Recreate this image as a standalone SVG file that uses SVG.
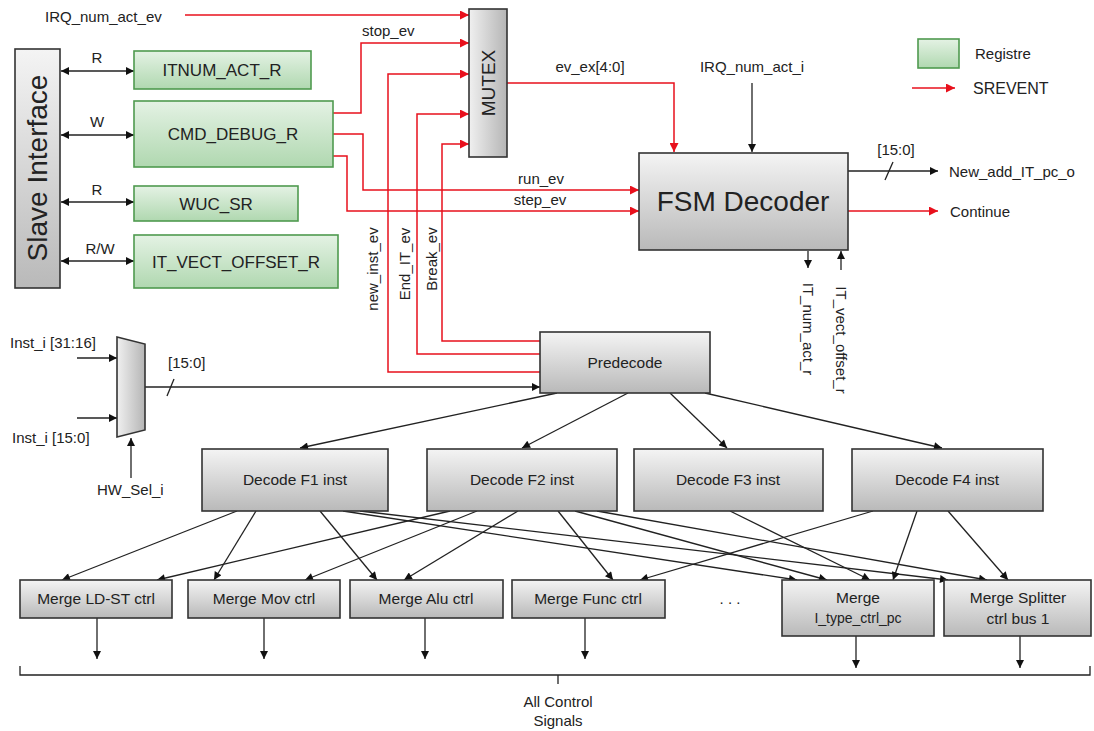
<svg xmlns="http://www.w3.org/2000/svg" width="1094" height="731" viewBox="0 0 1094 731">
<defs>
<linearGradient id="gGray" x1="0" y1="0" x2="0" y2="1"><stop offset="0" stop-color="#f4f4f4"/><stop offset="1" stop-color="#b9b9b9"/></linearGradient>
<linearGradient id="gGrayH" x1="0" y1="0" x2="1" y2="0"><stop offset="0" stop-color="#f0f0f0"/><stop offset="1" stop-color="#b5b5b5"/></linearGradient>
<linearGradient id="gGreen" x1="0" y1="0" x2="0" y2="1"><stop offset="0" stop-color="#e4f2e4"/><stop offset="1" stop-color="#b0d8b0"/></linearGradient>
<marker id="aB" viewBox="0 0 10 10" refX="10" refY="5" markerWidth="9" markerHeight="8" markerUnits="userSpaceOnUse" orient="auto-start-reverse"><path d="M0,0 L10,5 L0,10 Z" fill="#111"/></marker>
<marker id="aR" viewBox="0 0 10 10" refX="10" refY="5" markerWidth="10" markerHeight="9" markerUnits="userSpaceOnUse" orient="auto"><path d="M0,0 L10,5 L0,10 Z" fill="#e8101c"/></marker>
<style>
.box{fill:url(#gGray);stroke:#333;stroke-width:1.6}
.boxh{fill:url(#gGrayH);stroke:#333;stroke-width:1.6}
.reg{fill:url(#gGreen);stroke:#4f9a4f;stroke-width:1.6}
.t{font-family:"Liberation Sans",Arial,sans-serif;font-size:15px;fill:#222}
.c{text-anchor:middle}
.rt{font-size:17px}
.bt{font-size:15.5px}
.red{fill:none;stroke:#e8101c;stroke-width:1.5;marker-end:url(#aR)}
.blk{fill:none;stroke:#222;stroke-width:1.3;marker-end:url(#aB)}
.dbl{fill:none;stroke:#222;stroke-width:1.3;marker-end:url(#aB);marker-start:url(#aB)}
.ln{fill:none;stroke:#222;stroke-width:1.3}
</style>
</defs>
<rect width="1094" height="731" fill="#fff"/>

<g id="connectors">
<path class="red" d="M185,15 H469"/>
<path class="red" d="M333,113 H361 V43 H469"/>
<path class="red" d="M540,372 H388 V74 H469"/>
<path class="red" d="M540,354 H417 V114 H469"/>
<path class="red" d="M540,341 H442 V144 H469"/>
<path class="red" d="M333,134 H363 V190 H639"/>
<path class="red" d="M333,156 H347 V211 H639"/>
<path class="red" d="M507,83 H674 V152"/>
<path class="red" d="M848,211 H938"/>
<path class="blk" d="M752,83 V152"/>
<path class="blk" d="M848,171 H938"/>
<path class="ln" d="M885,180 L893,162"/>
<path class="blk" d="M808,251 V268"/>
<path class="blk" d="M841,270 V251"/>
<path class="dbl" d="M61,71 H134"/>
<path class="dbl" d="M61,135 H134"/>
<path class="dbl" d="M61,202 H134"/>
<path class="dbl" d="M61,261 H134"/>
<path class="blk" d="M77,358 H117"/>
<path class="blk" d="M77,418 H117"/>
<path class="blk" d="M131,478 V438"/>
<path class="blk" d="M145,387 H540"/>
<path class="ln" d="M167,396 L174,379"/>
<path class="blk" d="M557,393 L300,448"/>
<path class="blk" d="M628,393 L522,448"/>
<path class="blk" d="M670,393 L727,448"/>
<path class="blk" d="M705,393 L942,448"/>
<path class="blk" d="M237,511 L62,580"/>
<path class="blk" d="M256,511 L214,580"/>
<path class="blk" d="M320,511 L377,580"/>
<path class="blk" d="M343,511 L797,580"/>
<path class="blk" d="M360,511 L948,580"/>
<path class="blk" d="M450,511 L157,580"/>
<path class="blk" d="M477,511 L305,580"/>
<path class="blk" d="M518,511 L404,580"/>
<path class="blk" d="M558,511 L613,580"/>
<path class="blk" d="M575,511 L827,580"/>
<path class="blk" d="M597,511 L987,580"/>
<path class="blk" d="M730,511 L870,580"/>
<path class="blk" d="M873,511 L640,580"/>
<path class="blk" d="M917,511 L893,580"/>
<path class="blk" d="M948,511 L1008,580"/>
<path class="blk" d="M97,618 V659"/>
<path class="blk" d="M264,618 V659"/>
<path class="blk" d="M425,618 V659"/>
<path class="blk" d="M585,618 V659"/>
<path class="blk" d="M856,636 V668"/>
<path class="blk" d="M1020,636 V668"/>
<path class="ln" d="M20,666 V675 H1090 V666 M558,675 V684"/>
</g>

<g id="labels">
<text class="t" x="45" y="22">IRQ_num_act_ev</text>
<text class="t c" x="97" y="63">R</text>
<text class="t c" x="97" y="127">W</text>
<text class="t c" x="97" y="195">R</text>
<text class="t c" x="100" y="254">R/W</text>
<text class="t" x="362" y="36">stop_ev</text>
<text class="t c" x="590" y="72">ev_ex[4:0]</text>
<text class="t c" x="541" y="184">run_ev</text>
<text class="t c" x="540" y="205">step_ev</text>
<text class="t c" transform="translate(378,269) rotate(-90)">new_inst_ev</text>
<text class="t c" transform="translate(410,264) rotate(-90)">End_IT_ev</text>
<text class="t c" transform="translate(437,259) rotate(-90)">Break_ev</text>
<text class="t c" x="752" y="72">IRQ_num_act_i</text>
<text class="t c" x="896" y="155">[15:0]</text>
<text class="t" x="949" y="177">New_add_IT_pc_o</text>
<text class="t" x="950" y="217">Continue</text>
<text class="t c" transform="translate(803,329) rotate(90)">IT_num_act_r</text>
<text class="t c" transform="translate(836,340) rotate(90)">IT_vect_offset_r</text>
<text class="t" x="10" y="348">Inst_i [31:16]</text>
<text class="t" x="12" y="443">Inst_i [15:0]</text>
<text class="t" x="97" y="495">HW_Sel_i</text>
<text class="t" x="168" y="368">[15:0]</text>
<text class="t c" x="730" y="604">. . .</text>
<text class="t c" x="558" y="707">All Control</text>
<text class="t c" x="558" y="726">Signals</text>
</g>

<g id="legend">
<rect class="reg" x="918" y="39" width="41" height="29"/>
<text class="t" x="975" y="59">Registre</text>
<path class="red" d="M912,88 H955"/>
<text class="t" x="973" y="94" style="font-size:16px">SREVENT</text>
</g>

<g id="slave">
<rect class="box" x="15" y="49" width="45" height="239"/>
<text class="t c" transform="translate(47,168) rotate(-90)" style="font-size:28px">Slave Interface</text>
</g>
<g id="itnum"><rect class="reg" x="134" y="51" width="177" height="38"/><text class="t c rt" x="222" y="76">ITNUM_ACT_R</text></g>
<g id="cmd"><rect class="reg" x="134" y="101" width="199" height="66"/><text class="t c rt" x="233" y="140">CMD_DEBUG_R</text></g>
<g id="wuc"><rect class="reg" x="134" y="186" width="164" height="35"/><text class="t c rt" x="216" y="210">WUC_SR</text></g>
<g id="itvect"><rect class="reg" x="134" y="235" width="204" height="53"/><text class="t c rt" x="236" y="268">IT_VECT_OFFSET_R</text></g>

<g id="mutex">
<rect class="boxh" x="469" y="9" width="38" height="148"/>
<text class="t c" transform="translate(495,83) rotate(-90)" style="font-size:19px">MUTEX</text>
</g>

<g id="fsm">
<rect class="box" x="639" y="153" width="209" height="97"/>
<text class="t c" x="743" y="211" style="font-size:28px">FSM Decoder</text>
</g>

<g id="mux"><polygon class="boxh" points="117,337 145,344 145,430 117,437"/></g>

<g id="predecode"><rect class="box" x="540" y="332" width="170" height="61"/><text class="t c bt" x="625" y="368">Predecode</text></g>

<g id="f1"><rect class="box" x="202" y="449" width="186" height="62"/><text class="t c bt" x="295" y="485">Decode F1 inst</text></g>
<g id="f2"><rect class="box" x="427" y="449" width="190" height="62"/><text class="t c bt" x="522" y="485">Decode F2 inst</text></g>
<g id="f3"><rect class="box" x="634" y="449" width="189" height="62"/><text class="t c bt" x="728" y="485">Decode F3 inst</text></g>
<g id="f4"><rect class="box" x="852" y="449" width="191" height="62"/><text class="t c bt" x="947" y="485">Decode F4 inst</text></g>

<g id="m1"><rect class="box" x="20" y="580" width="152" height="38"/><text class="t c bt" x="96" y="604">Merge LD-ST ctrl</text></g>
<g id="m2"><rect class="box" x="188" y="580" width="152" height="38"/><text class="t c bt" x="264" y="604">Merge Mov ctrl</text></g>
<g id="m3"><rect class="box" x="350" y="580" width="153" height="38"/><text class="t c bt" x="426" y="604">Merge Alu ctrl</text></g>
<g id="m4"><rect class="box" x="512" y="580" width="153" height="38"/><text class="t c bt" x="588" y="604">Merge Func ctrl</text></g>
<g id="m5"><rect class="box" x="782" y="580" width="152" height="56"/><text class="t c bt" x="858" y="603">Merge</text><text class="t c" x="858" y="623" style="font-size:14px">I_type_ctrl_pc</text></g>
<g id="m6"><rect class="box" x="944" y="580" width="147" height="56"/><text class="t c bt" x="1018" y="603">Merge Splitter</text><text class="t c bt" x="1018" y="624">ctrl bus 1</text></g>
</svg>
